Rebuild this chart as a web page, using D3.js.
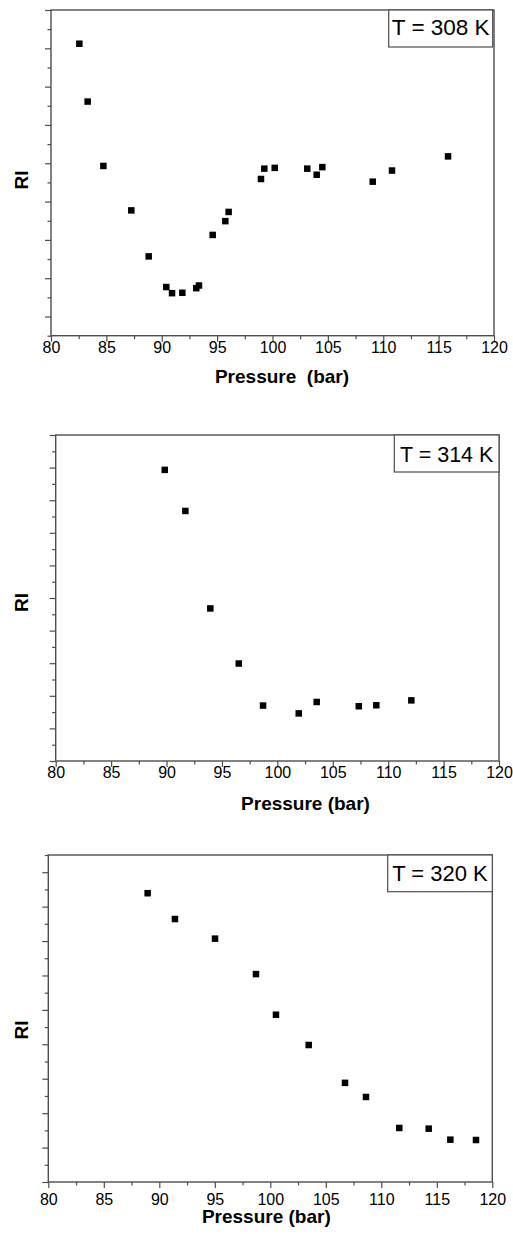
<!DOCTYPE html>
<html>
<head>
<meta charset="utf-8">
<script src="https://cdn.jsdelivr.net/npm/d3@7"></script>
<style>
    body { margin: 0; background: #fff; }
    text { font-family: Arial, "Liberation Sans", sans-serif; }
</style>
</head>
<body>
<svg id="chart" width="513" height="1234"></svg>
<script>
// pressure (bar) and relative intensity (arbitrary units) per temperature
let pressure308 = [82.56, 83.31, 84.73, 87.25, 88.82, 90.41, 90.93, 91.86, 93.12, 93.36, 94.6,
    95.74, 96.04, 98.96, 99.26, 100.2, 103.14, 103.99, 104.5, 109.05, 110.79, 115.85];
let ri308 = [7.12, 5.61, 3.93, 2.77, 1.57, 0.77, 0.61, 0.62, 0.74, 0.81, 2.13,
    2.49, 2.73, 3.59, 3.86, 3.88, 3.86, 3.70, 3.90, 3.52, 3.81, 4.18];

let pressure314 = [89.84, 91.7, 93.95, 96.52, 98.71, 101.93, 103.55, 107.35, 108.93, 112.09];
let ri314 = [8.93, 7.67, 4.68, 2.99, 1.70, 1.46, 1.81, 1.68, 1.71, 1.86];

let pressure320 = [88.95, 91.41, 95.02, 98.71, 100.51, 103.46, 106.73, 108.62, 111.62, 114.27, 116.22, 118.53];
let ri320 = [8.39, 7.64, 7.07, 6.04, 4.86, 3.98, 2.88, 2.47, 1.57, 1.55, 1.23, 1.22];

let temperatures = ["T = 308 K", "T = 314 K", "T = 320 K"];
let xTicks = d3.range(80, 121, 5);
let xMinorTicks = d3.range(82.5, 120, 5);
let xTitles = ["Pressure  (bar)", "Pressure (bar)", "Pressure (bar)"];

let panels = [
    { x: pressure308, y: ri308, yDomain: [-0.5, 8], box: [51, 10, 494, 335.7],
      legend: [388.7, 10, 104, 37, 22.5, 25], xPad: 0, titleX: 282, titleY: 383, riY: 180 },
    { x: pressure314, y: ri314, yDomain: [0, 10], box: [55.7, 435, 499, 761],
      legend: [394.3, 435, 104.7, 37, 21.5, 26.7], xPad: 0, titleX: 305.5, titleY: 810, riY: 602.5 },
    { x: pressure320, y: ri320, yDomain: [0, 9.5], box: [48.3, 855, 492.3, 1182],
      legend: [387.7, 855, 104.6, 36.7, 22, 25.7], xPad: 6, titleX: 266.3, titleY: 1223, riY: 1030 }
];

let frameColor = "#4d4d4d";

function styleAxis(g) {
    g.select(".domain").remove();
    g.selectAll("line").attr("stroke", frameColor).attr("stroke-width", 1.2);
    g.selectAll("text").attr("fill", "#000").attr("font-size", "16px")
        .attr("font-family", "Arial, 'Liberation Sans', sans-serif");
}

function drawPanel(panel, i, svg) {
    let [left, top, right, bottom] = panel.box;

    let xScale = d3.scaleLinear().domain([80, 120]).range([left, right]);
    let yScale = d3.scaleLinear().domain(panel.yDomain).range([bottom, top]);

    let g = svg.append("g");

    let yMajor = d3.range(Math.ceil(panel.yDomain[0]), panel.yDomain[1] + 0.01, 1);
    let yMinor = d3.range(Math.floor(panel.yDomain[0]) + 0.5, panel.yDomain[1] + 0.01, 1);

    g.append("g").attr("transform", `translate(${left},0)`)
        .call(d3.axisLeft(yScale).tickValues(yMajor).tickFormat("").tickSize(6).tickSizeOuter(0))
        .call(styleAxis);
    g.append("g").attr("transform", `translate(${left},0)`)
        .call(d3.axisLeft(yScale).tickValues(yMinor).tickFormat("").tickSize(3.5).tickSizeOuter(0))
        .call(styleAxis);

    g.append("g").attr("transform", `translate(0,${bottom})`)
        .call(d3.axisBottom(xScale).tickValues(xTicks).tickFormat(d3.format("d"))
            .tickSize(6).tickPadding(panel.xPad).tickSizeOuter(0))
        .call(styleAxis);
    g.append("g").attr("transform", `translate(0,${bottom})`)
        .call(d3.axisBottom(xScale).tickValues(xMinorTicks).tickFormat("").tickSize(3.5).tickSizeOuter(0))
        .call(styleAxis);

    // frame round the plot
    g.append("rect")
        .attr("x", left).attr("y", top)
        .attr("width", right - left).attr("height", bottom - top)
        .attr("fill", "none")
        .attr("stroke", frameColor)
        .attr("stroke-width", 1.4);

    let points = panel.x.map((p, k) => ({ p: p, ri: panel.y[k] }));
    let size = 6.5;
    g.append("g").selectAll("rect")
        .data(points)
        .join("rect")
        .attr("x", (d) => xScale(d.p) - size / 2)
        .attr("y", (d) => yScale(d.ri) - size / 2)
        .attr("width", size)
        .attr("height", size)
        .attr("fill", "#000");

    let [lx, ly, lw, lh, fs, baseOff] = panel.legend;
    g.append("rect")
        .attr("x", lx).attr("y", ly)
        .attr("width", lw).attr("height", lh)
        .attr("fill", "#fff")
        .attr("stroke", frameColor)
        .attr("stroke-width", 1.2);
    g.append("text")
        .attr("x", lx + lw / 2).attr("y", ly + baseOff)
        .attr("text-anchor", "middle")
        .attr("font-size", fs + "px")
        .text(temperatures[i]);

    g.append("text")
        .attr("x", panel.titleX).attr("y", panel.titleY)
        .attr("text-anchor", "middle")
        .attr("font-size", "19px")
        .attr("font-weight", "bold")
        .style("white-space", "pre")
        .text(xTitles[i]);

    g.append("text")
        .attr("transform", `translate(27.5,${panel.riY}) rotate(-90)`)
        .attr("text-anchor", "middle")
        .attr("font-size", "19px")
        .attr("font-weight", "bold")
        .text("RI");
}

let svg = d3.select("#chart");
panels.forEach((panel, i) => drawPanel(panel, i, svg));
</script>
</body>
</html>
